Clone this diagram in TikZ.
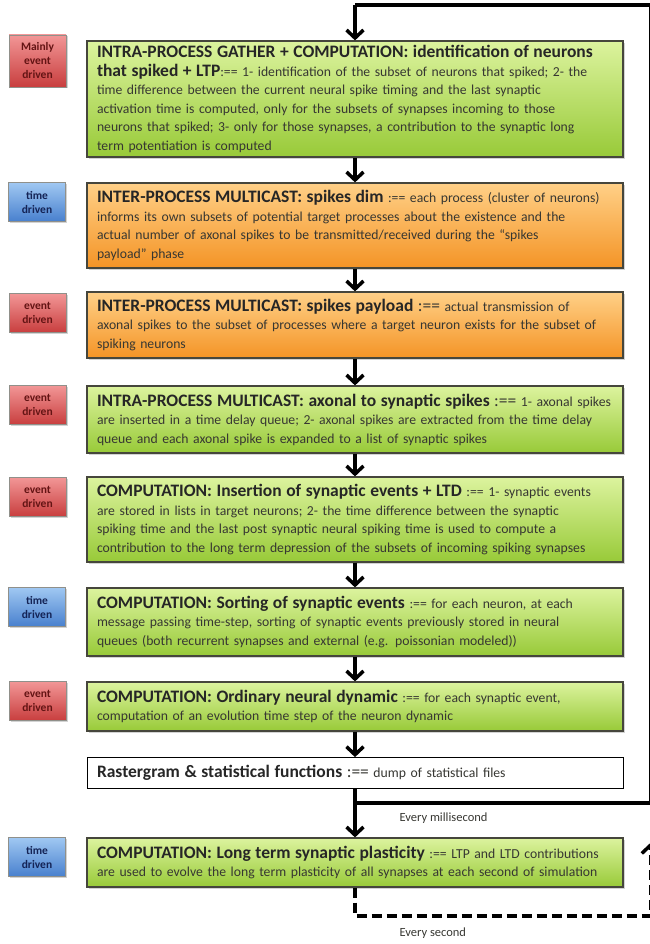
\documentclass[tikz,border=0pt]{standalone}
\usepackage{fontspec}
\setmainfont{Carlito}
\usetikzlibrary{arrows.meta,shadows}
\definecolor{greentop}{RGB}{220,243,158}
\definecolor{greenbot}{RGB}{152,202,56}
\definecolor{orangetop}{RGB}{255,208,135}
\definecolor{orangebot}{RGB}{244,148,38}
\definecolor{redtop}{RGB}{242,150,150}
\definecolor{redbot}{RGB}{200,62,62}
\definecolor{bluetop}{RGB}{160,200,242}
\definecolor{bluebot}{RGB}{72,128,206}
\definecolor{boxline}{RGB}{70,70,60}
\definecolor{bodytext}{RGB}{55,55,50}
\definecolor{redtext}{RGB}{100,20,20}
\definecolor{bluetext}{RGB}{20,35,85}
\begin{document}
\begin{tikzpicture}[x=1pt, y=-1pt, line join=miter,
  box/.style={draw=boxline, line width=1.2pt, text width=516pt, inner xsep=10pt, inner ysep=0pt,
    align=left, text=bodytext, font=\fontsize{13.7}{18.5}\selectfont,
    drop shadow={opacity=.35, shadow xshift=2pt, shadow yshift=-2pt}},
  greenbox/.style={box, top color=greentop, bottom color=greenbot},
  orangebox/.style={box, top color=orangetop, bottom color=orangebot},
  plainbox/.style={draw=black, line width=.8pt, fill=white, text width=516pt, inner xsep=10pt,
    inner ysep=0pt, align=left, text=bodytext, font=\fontsize{13.7}{18.5}\selectfont},
  tag/.style={draw=boxline!60, line width=.5pt, minimum width=57pt, minimum height=39pt, inner sep=1pt,
    align=center, font=\fontsize{11.5}{14}\selectfont\bfseries,
    drop shadow={opacity=.35, shadow xshift=1.5pt, shadow yshift=-1.5pt}},
  redtag/.style={tag, top color=redtop, bottom color=redbot, text=redtext},
  bluetag/.style={tag, top color=bluetop, bottom color=bluebot, text=bluetext},
  flow/.style={line width=3.5pt, -{Straight Barb[length=8pt,width=17pt]}},
  loopline/.style={line width=3.5pt},
  secline/.style={line width=3.5pt, dash pattern=on 10pt off 5pt},
  note/.style={font=\fontsize{12.5}{14}\selectfont, text=bodytext}]
\def\hd#1{{\fontsize{17.5}{18.5}\selectfont\bfseries\color{black!85}#1}}
\useasboundingbox (0,0) rectangle (649,944);

% phase boxes
\node[greenbox, minimum height=116pt] (gather) at (355,99)
  {\hd{INTRA-PROCESS GATHER + COMPUTATION: identification of neurons}\\
   \hd{that spiked + LTP}:== 1- identification of the subset of neurons that spiked; 2- the\\
   time difference between  the current neural spike timing and the  last synaptic\\
   activation time  is computed, only for the subsets of synapses incoming to those\\
   neurons that spiked; 3- only for those synapses, a contribution to the synaptic long\\
   term potentiation is computed};
\node[orangebox, minimum height=85pt] (dim) at (355,225.5)
  {\hd{INTER-PROCESS MULTICAST: spikes dim} :==  each process (cluster of neurons)\\
   informs its own subsets of potential target processes about the  existence and the\\
   actual  number of axonal spikes to be transmitted/received during the  “spikes\\
   payload” phase};
\node[orangebox, minimum height=66pt] (payload) at (355,325)
  {\hd{INTER-PROCESS MULTICAST: spikes payload} {\fontsize{17.5}{18.5}\selectfont :==} actual transmission of\\
   axonal spikes to the subset of processes where a target neuron exists for the subset of\\
   spiking neurons};
\node[greenbox, minimum height=67pt] (axsyn) at (355,419.5)
  {\hd{INTRA-PROCESS MULTICAST: axonal to synaptic spikes} {\fontsize{17.5}{18.5}\selectfont :==} 1- axonal spikes\\
   are inserted in a time delay queue;  2- axonal spikes are extracted from the  time delay\\
   queue  and each axonal spike is expanded to a list of synaptic spikes};
\node[greenbox, minimum height=85pt] (ltd) at (355,519.5)
  {\hd{COMPUTATION: Insertion of synaptic events + LTD} :== 1- synaptic events\\
   are stored in lists in target neurons; 2- the time  difference between  the synaptic\\
   spiking time and the  last post synaptic neural spiking time  is used to compute a\\
   contribution to the  long term  depression of the  subsets of incoming spiking synapses};
\node[greenbox, minimum height=68pt] (sorting) at (355,622)
  {\hd{COMPUTATION: Sorting of synaptic events} :== for each neuron, at each\\
   message passing time-step, sorting of synaptic events previously stored in neural\\
   queues (both  recurrent synapses and external (e.g.  poissonian modeled))};
\node[greenbox, minimum height=49pt] (dynamic) at (355,706.5)
  {\hd{COMPUTATION: Ordinary neural dynamic} :== for each synaptic event,\\
   computation of an evolution time  step of the  neuron  dynamic};
\node[plainbox, minimum height=31pt] (raster) at (355,773)
  {\hd{Rastergram \& statistical functions} {\fontsize{17.5}{18.5}\selectfont :==} dump of statistical files};
\node[greenbox, minimum height=49pt] (plasticity) at (355,862.5)
  {\hd{COMPUTATION: Long term synaptic  plasticity} :== LTP and LTD contributions\\
   are used to evolve the  long term  plasticity of all synapses at each second of simulation};

% driving mode tags
\node[redtag, minimum height=52pt] (tgather) at (37.5,61) {Mainly\\event\\driven};
\node[bluetag] (tdim) at (37,202) {time\\driven};
\node[redtag] (tpayload) at (37.5,313) {event\\driven};
\node[redtag] (taxsyn) at (37.5,405) {event\\driven};
\node[redtag] (tltd) at (37.5,497) {event\\driven};
\node[bluetag] (tsorting) at (37,607) {time\\driven};
\node[redtag] (tdynamic) at (37.5,701) {event\\driven};
\node[bluetag] (tplasticity) at (37,857) {time\\driven};

% flow
\foreach \a/\b in {gather/dim, dim/payload, payload/axsyn, axsyn/ltd, ltd/sorting,
  sorting/dynamic, dynamic/raster, raster/plasticity}
  \draw[flow] (\a.south) -- (\b.north);

% loops
\coordinate (ms) at (raster.south |- 0,803);
\coordinate (top) at (gather.north |- 0,5);
\coordinate (sec) at (plasticity.south |- 0,916);
\draw[loopline] (ms) -- (650.3,803) -- (650.3,5) -- (top);
\draw[flow] (top) -- (gather.north);
\draw[secline] (plasticity.south) -- (sec) -- (650.3,916)
  -- (650.3,843) [-{Straight Barb[length=8pt,width=17pt]}];
\node[note, anchor=west] (msnote) at (396,818) {Every millisecond};
\node[note, anchor=west] (secnote) at (396,933) {Every second};
\end{tikzpicture}
\end{document}
